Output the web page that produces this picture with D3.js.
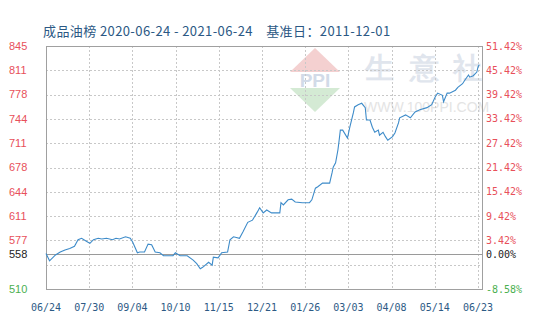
<!DOCTYPE html>
<meta charset="utf-8">
<style>
body { margin: 0; background: #fff; }
.chart text { font-family: "Liberation Sans", Arial, sans-serif; }
.chart .title { font-family: "Noto Sans CJK SC", sans-serif; font-size: 13px; letter-spacing: 0.4px; fill: #2b5884; white-space: pre; }
.chart .left-label { font-size: 11px; }
.chart .right-label, .chart .x-label { font-family: "DejaVu Sans Mono", monospace; font-size: 10px; }
.chart .x-label { fill: #2d5a85; }
.chart .grid { stroke: #c8c8c8; stroke-dasharray: 2,2; shape-rendering: crispEdges; }
.chart .frame { fill: none; stroke: #a0a0a0; shape-rendering: crispEdges; }
.chart .baseline { stroke: #9a9a9a; shape-rendering: crispEdges; }
.chart .price { fill: none; stroke: #3d8bc9; stroke-width: 1.1; }
</style>
<body>
<svg class="chart js-chart"></svg>

<script src="https://cdn.jsdelivr.net/npm/d3@7"></script>
<script>
"use strict";

var titleText = "成品油榜 2020-06-24 - 2021-06-24    基准日：2011-12-01";
var baseValue = 558;

// percent grid relative to the base value (558)
var pctTicks = [-8.58, -2.58, 3.42, 9.42, 15.42, 21.42, 27.42, 33.42, 39.42, 45.42, 51.42];
var leftLabels = ["510", "", "577", "611", "644", "678", "711", "744", "778", "811", "845"];
var rightLabels = ["-8.58%", "", "3.42%", "9.42%", "15.42%", "21.42%", "27.42%", "33.42%", "39.42%", "45.42%", "51.42%"];

var dates = [
    "2020-06-24", "2020-06-27", "2020-07-02", "2020-07-06", "2020-07-10", "2020-07-14", "2020-07-18",
    "2020-07-21", "2020-07-24", "2020-07-28", "2020-07-31", "2020-08-03", "2020-08-07", "2020-08-10",
    "2020-08-14", "2020-08-19", "2020-08-22", "2020-08-25", "2020-08-30", "2020-09-03", "2020-09-05",
    "2020-09-09", "2020-09-11", "2020-09-15", "2020-09-18", "2020-09-21", "2020-09-24", "2020-09-28",
    "2020-10-01", "2020-10-05", "2020-10-09", "2020-10-11", "2020-10-15", "2020-10-21", "2020-10-26",
    "2020-10-29", "2020-11-01", "2020-11-03", "2020-11-08", "2020-11-11", "2020-11-12", "2020-11-16",
    "2020-11-19", "2020-11-24", "2020-11-26", "2020-11-29", "2020-12-04", "2020-12-07", "2020-12-11",
    "2020-12-15", "2020-12-19", "2020-12-21", "2020-12-24", "2020-12-27", "2020-12-31", "2021-01-07",
    "2021-01-08", "2021-01-10", "2021-01-14", "2021-01-17", "2021-01-20", "2021-01-26", "2021-02-01",
    "2021-02-03", "2021-02-06", "2021-02-08", "2021-02-12", "2021-02-18", "2021-02-20", "2021-02-21",
    "2021-02-23", "2021-02-25", "2021-02-26", "2021-02-27", "2021-03-01", "2021-03-05", "2021-03-07",
    "2021-03-10", "2021-03-11", "2021-03-14", "2021-03-17", "2021-03-20", "2021-03-21", "2021-03-24",
    "2021-03-26", "2021-03-28", "2021-03-31", "2021-04-01", "2021-04-04", "2021-04-06", "2021-04-08",
    "2021-04-12", "2021-04-14", "2021-04-17", "2021-04-18", "2021-04-23", "2021-04-27", "2021-05-01",
    "2021-05-05", "2021-05-11", "2021-05-15", "2021-05-18", "2021-05-20", "2021-05-24", "2021-05-25",
    "2021-05-28", "2021-05-30", "2021-06-04", "2021-06-06", "2021-06-10", "2021-06-12", "2021-06-15",
    "2021-06-16", "2021-06-19", "2021-06-22", "2021-06-23", "2021-06-24"
];
var prices = [
    559, 549, 557, 561, 564, 566, 569,
    578, 580, 576, 573, 578, 580, 579,
    580, 578, 580, 579, 582, 580, 575,
    560, 561, 561, 572, 571, 561, 560,
    556, 556, 556, 560, 556, 556, 550,
    545, 538, 540, 547, 543, 554, 553,
    560, 561, 578, 582, 580, 589, 602,
    605, 616, 622, 615, 619, 615, 615,
    629, 626, 633, 634, 630, 629, 629,
    633, 649, 651, 656, 656, 670, 678,
    684, 702, 715, 729, 729, 718, 733,
    753, 761, 764, 766, 760, 743, 743,
    733, 726, 729, 722, 726, 720, 715,
    720, 725, 739, 746, 750, 746, 754,
    757, 760, 764, 775, 780, 777, 768,
    780, 780, 784, 788, 793, 798, 805,
    802, 804, 809, 816, 819
];

var tickDates = ["06/24", "07/30", "09/04", "10/10", "11/15", "12/21", "01/26", "03/03", "04/08", "05/14", "06/23"];

var width = 560,
    height = 328,
    plotLeft = 46,
    plotRight = 482,
    plotTop = 46,
    plotBottom = 289;

var parseDate = d3.timeParse("%Y-%m-%d");
var series = dates.map(function(d, i) { return { date: parseDate(d), value: prices[i] }; });

var x = d3.scaleTime()
    .domain([parseDate("2020-06-24"), parseDate("2021-06-23")])
    .range([plotLeft, 478]);

var y = d3.scaleLinear()
    .domain([baseValue * (1 + pctTicks[0] / 100), baseValue * (1 + pctTicks[pctTicks.length - 1] / 100)])
    .range([plotBottom, plotTop]);

var svg = d3.select(".js-chart")
    .attr("width", width)
    .attr("height", height);

// watermark
var wm = svg.append("g").attr("class", "watermark");
wm.append("path")
    .attr("d", "M315,48 L340,72 L290,72 Z")
    .attr("fill", "#f4d0d0");
wm.append("path")
    .attr("d", "M290,88 L340,88 L315,112 Z")
    .attr("fill", "#d4ead4");
wm.append("text")
    .attr("x", 315).attr("y", 87)
    .attr("text-anchor", "middle")
    .attr("font-family", "Liberation Serif, serif")
    .attr("font-weight", "bold")
    .attr("font-size", 19)
    .attr("fill", "#d2dbe8")
    .text("PPI");
wm.selectAll(".wm-char")
    .data([["生", 365], ["意", 410], ["社", 453]])
    .join("text")
    .attr("class", "wm-char")
    .attr("x", function(d) { return d[1]; })
    .attr("y", 78)
    .attr("font-family", "Noto Sans CJK SC, sans-serif")
    .attr("font-weight", "bold")
    .attr("font-size", 29)
    .attr("fill", "#e0e5ed")
    .text(function(d) { return d[0]; });
wm.append("text")
    .attr("x", 364).attr("y", 112)
    .attr("font-family", "Liberation Sans, sans-serif")
    .attr("font-size", 14)
    .attr("fill", "#e4e4e4")
    .text("WWW.100PPI.COM");

svg.append("text")
    .attr("class", "title")
    .attr("x", 43)
    .attr("y", 36)
    .text(titleText);

// horizontal grid
var gridValues = pctTicks.map(function(p) { return baseValue * (1 + p / 100); });
svg.append("g").selectAll("line")
    .data(gridValues.slice(1, -1))
    .join("line")
    .attr("class", "grid")
    .attr("x1", plotLeft).attr("x2", plotRight)
    .attr("y1", function(d) { return Math.round(y(d)) + 0.5; })
    .attr("y2", function(d) { return Math.round(y(d)) + 0.5; });

// vertical grid
var startTime = x.domain()[0].getTime(),
    endTime = x.domain()[1].getTime();
var tickTimes = tickDates.map(function(d, i) {
    return new Date(startTime + (endTime - startTime) * i / (tickDates.length - 1));
});
svg.append("g").selectAll("line")
    .data(tickTimes.slice(1))
    .join("line")
    .attr("class", "grid")
    .attr("y1", plotTop).attr("y2", plotBottom)
    .attr("x1", function(d) { return Math.round(x(d)) + 0.5; })
    .attr("x2", function(d) { return Math.round(x(d)) + 0.5; });

svg.append("line")
    .attr("class", "baseline")
    .attr("x1", plotLeft).attr("x2", plotRight)
    .attr("y1", Math.round(y(baseValue)) + 0.5)
    .attr("y2", Math.round(y(baseValue)) + 0.5);

svg.append("rect")
    .attr("class", "frame")
    .attr("x", plotLeft + 0.5).attr("y", plotTop + 0.5)
    .attr("width", plotRight - plotLeft).attr("height", plotBottom - plotTop);

var line = d3.line()
    .x(function(d) { return x(d.date); })
    .y(function(d) { return y(d.value); });

svg.append("path")
    .datum(series)
    .attr("class", "price")
    .attr("d", line);

function labelColor(i) {
    if (i === 0) return "#4cb050";
    return "#e8505a";
}

// left axis labels
svg.append("g").selectAll("text")
    .data(gridValues)
    .join("text")
    .attr("class", "left-label")
    .attr("x", 9)
    .attr("y", function(d) { return y(d); })
    .attr("dy", "0.35em")
    .attr("fill", function(d, i) { return labelColor(i); })
    .text(function(d, i) { return leftLabels[i]; });

svg.append("text")
    .attr("class", "left-label")
    .attr("x", 9)
    .attr("y", y(baseValue))
    .attr("dy", "0.35em")
    .attr("fill", "#222")
    .text(String(baseValue));

// right axis labels
svg.append("g").selectAll("text")
    .data(gridValues)
    .join("text")
    .attr("class", "right-label")
    .attr("x", 486)
    .attr("y", function(d) { return y(d); })
    .attr("dy", "0.35em")
    .attr("fill", function(d, i) { return labelColor(i); })
    .text(function(d, i) { return rightLabels[i]; });

svg.append("text")
    .attr("class", "right-label")
    .attr("x", 486)
    .attr("y", y(baseValue))
    .attr("dy", "0.35em")
    .attr("fill", "#222")
    .text("0.00%");

// x labels
svg.append("g").selectAll("text")
    .data(tickTimes)
    .join("text")
    .attr("class", "x-label")
    .attr("x", function(d) { return x(d); })
    .attr("y", 311)
    .attr("text-anchor", "middle")
    .text(function(d, i) { return tickDates[i]; });

</script>
</body>
